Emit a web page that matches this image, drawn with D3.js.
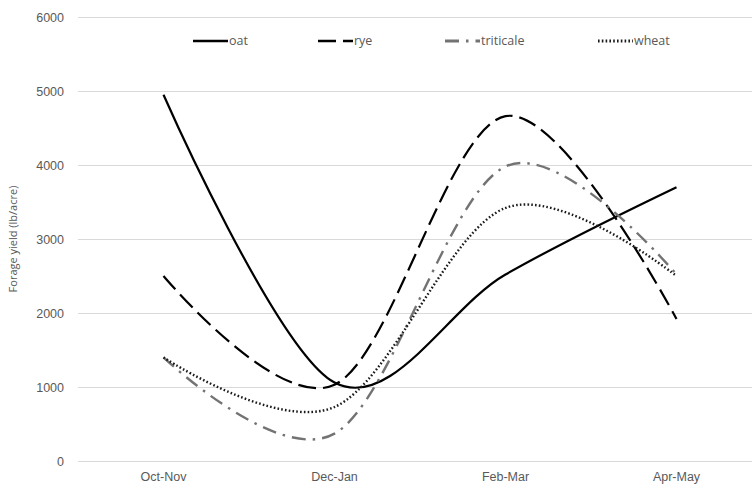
<!DOCTYPE html>
<html lang="en">
<head>
    <meta charset="UTF-8">
    <title>Forage yield</title>
    <script src="https://d3js.org/d3.v7.min.js"></script>
    <style>
        body{
            margin: 0;
            background-color: #fff;
            font-family: 'Open Sans', sans-serif;
        }
        .tick text{
            fill: #595959;
        }
    </style>
</head>
<body>
    <div class="chart"></div>

    <script>

        // data
        var months = ["Oct-Nov", "Dec-Jan", "Feb-Mar", "Apr-May"];
        var oat = [4950, 1060, 2520, 3700];
        var rye = [2500, 1030, 4660, 1920];
        var triticale = [1400, 370, 3980, 2520];
        var wheat = [1400, 730, 3420, 2500];
        var yTicks = [0, 1000, 2000, 3000, 4000, 5000, 6000];

        var series = [
            {name: "oat", values: oat, color: "#000", dash: null, width: 2.2},
            {name: "rye", values: rye, color: "#000", dash: "18,7", width: 2.2},
            {name: "triticale", values: triticale, color: "#737373", dash: "14,7,2.5,7", width: 2.4},
            {name: "wheat", values: wheat, color: "#1a1a1a", dash: "1.6,2.2", width: 2.4}
        ];

        //setup dimensions
        var width = 752, height = 491;
        var margin = {top: 17, right: -10, bottom: 30, left: 78};

        var svg = d3.select(".chart")
            .append("svg")
            .attr("width", width)
            .attr("height", height);

        var xScale = d3.scaleBand()
            .domain(months)
            .range([margin.left, width - margin.right]);

        var yScale = d3.scaleLinear()
            .domain([0, 6000])
            .range([height - margin.bottom, margin.top]);

        // gridlines + y labels
        var yAxis = svg.append("g")
            .attr("transform", "translate(" + margin.left + ",0)")
            .call(d3.axisLeft(yScale)
                .tickValues(yTicks)
                .tickSize(-(width - margin.right - margin.left))
                .tickPadding(14)
                .tickFormat(d3.format("d")));
        yAxis.select(".domain").remove();
        yAxis.selectAll("line").attr("stroke", "#d9d9d9").attr("stroke-width", 1.2);
        yAxis.selectAll("text").style("font-size", "12.5px");

        // x labels
        var xAxis = svg.append("g")
            .attr("transform", "translate(0," + (height - margin.bottom) + ")")
            .call(d3.axisBottom(xScale).tickSize(0).tickPadding(11));
        xAxis.select(".domain").remove();
        xAxis.selectAll("text").style("font-size", "12.5px");

        // axis title
        svg.append("text")
            .attr("transform", "translate(17," + ((height - margin.bottom + margin.top) / 2) + ") rotate(-90)")
            .attr("text-anchor", "middle")
            .style("font-size", "11px")
            .attr("fill", "#595959")
            .text("Forage yield (lb/acre)");

        var line = d3.line()
            .x(function(d, i){ return xScale(months[i]) + xScale.bandwidth() / 2 })
            .y(function(d){ return yScale(d) })
            .curve(d3.curveCardinal.tension(0));

        svg.selectAll(".series")
            .data(series)
            .join("path")
                .attr("class", "series")
                .attr("d", function(s){ return line(s.values) })
                .attr("fill", "none")
                .attr("stroke", function(s){ return s.color })
                .attr("stroke-width", function(s){ return s.width })
                .attr("stroke-dasharray", function(s){ return s.dash })
                .attr("stroke-linecap", "butt");

        // legend
        var legendX = [193, 318, 445, 598];
        var legend = svg.selectAll(".legend")
            .data(series)
            .join("g")
                .attr("class", "legend")
                .attr("transform", function(s, i){ return "translate(" + legendX[i] + ",41)" });

        legend.append("line")
            .attr("x1", 0)
            .attr("x2", 35)
            .attr("stroke", function(s){ return s.color })
            .attr("stroke-width", function(s){ return s.width + 0.4 })
            .attr("stroke-dasharray", function(s){ return s.dash });

        legend.append("text")
            .attr("x", 36)
            .attr("dy", "0.35em")
            .style("font-size", "12.5px")
            .attr("fill", "#595959")
            .text(function(s){ return s.name });

    </script>

</body>
</html>
